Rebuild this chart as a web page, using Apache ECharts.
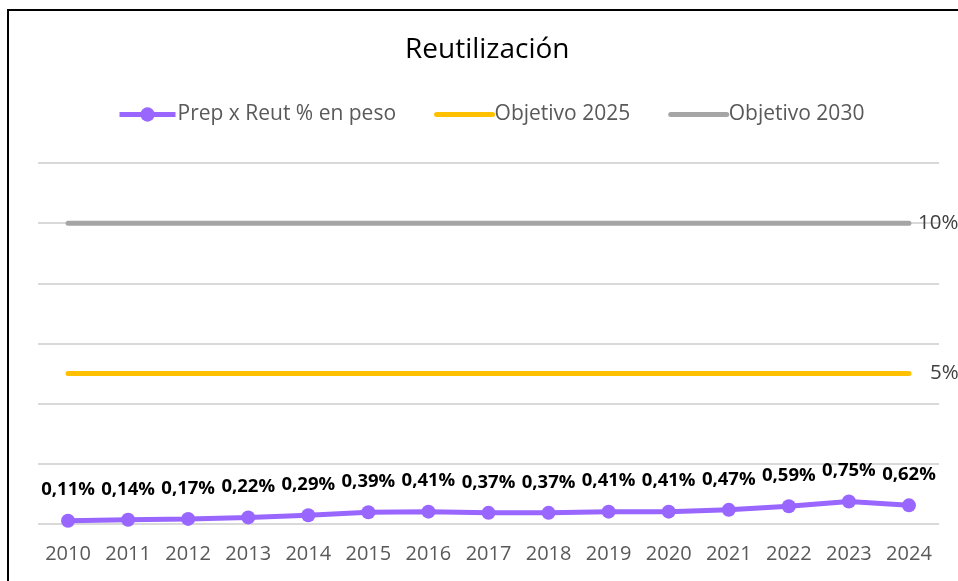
<!DOCTYPE html>
<html>
<head>
<meta charset="utf-8">
<script src="https://cdn.jsdelivr.net/npm/echarts@6/dist/echarts.min.js"></script>
<style>
  html, body { margin: 0; padding: 0; background: #fff; }
  #chart { width: 958px; height: 581px; }
</style>
</head>
<body>
<div id="chart"></div>
<script>
// datos
let years = ['2010','2011','2012','2013','2014','2015','2016','2017','2018','2019','2020','2021','2022','2023','2024'];
let prepReut = [0.11,0.14,0.17,0.22,0.29,0.39,0.41,0.37,0.37,0.41,0.41,0.47,0.59,0.75,0.62];
let obj2025 = [5,5,5,5,5,5,5,5,5,5,5,5,5,5,5];
let obj2030 = [10,10,10,10,10,10,10,10,10,10,10,10,10,10,10];

let font = '"Open Sans", sans-serif';
let pct = v => v.toFixed(2).replace('.', ',') + '%';

let chart = echarts.init(document.getElementById('chart'));
chart.setOption({
  animation: false,
  title: {
    text: 'Reutilización', left: 400, top: 31,
    textStyle: { fontFamily: font, fontSize: 28, fontWeight: 'normal', color: '#000' }
  },
  legend: {
    top: 99, left: 112, itemWidth: 56, itemHeight: 18, itemGap: 38,
    textStyle: { fontFamily: font, fontSize: 21, color: '#595959', padding: [0, 0, 0, -3] },
    data: [
      { name: 'Prep x Reut % en peso', lineStyle: { width: 5 } },
      { name: 'Objetivo 2025', itemStyle: { opacity: 0 }, lineStyle: { width: 5 } },
      { name: 'Objetivo 2030', itemStyle: { opacity: 0 }, lineStyle: { width: 5 } }
    ]
  },
  grid: { left: 38, right: 19, top: 163, bottom: 57 },
  xAxis: {
    type: 'category', data: years,
    axisLine: { show: false }, axisTick: { show: false },
    axisLabel: { interval: 0, hideOverlap: false, fontFamily: font, fontSize: 20, color: '#595959', margin: 20 }
  },
  yAxis: {
    type: 'value', min: 0, max: 12, interval: 2,
    axisLabel: { show: false }, axisLine: { show: false }, axisTick: { show: false },
    splitLine: { lineStyle: { color: '#D9D9D9', width: 2 } }
  },
  graphic: [{
    type: 'rect', silent: true, z: 100,
    shape: { x: 8, y: 10, width: 1000, height: 620 },
    style: { fill: 'none', stroke: '#000', lineWidth: 2 }
  }],
  series: [
    {
      name: 'Objetivo 2030', type: 'line', data: obj2030,
      symbol: 'none', lineStyle: { color: '#A5A5A5', width: 5, cap: 'round' },
      itemStyle: { color: '#A5A5A5' },
      endLabel: { show: true, distance: 9, formatter: '10%', color: '#404040', fontSize: 20.5, fontFamily: font }
    },
    {
      name: 'Objetivo 2025', type: 'line', data: obj2025,
      symbol: 'none', lineStyle: { color: '#FFC000', width: 5, cap: 'round' },
      itemStyle: { color: '#FFC000' },
      endLabel: { show: true, distance: 21, formatter: '5%', color: '#404040', fontSize: 20.5, fontFamily: font }
    },
    {
      name: 'Prep x Reut % en peso', type: 'line', data: prepReut,
      symbol: 'circle', symbolSize: 14,
      lineStyle: { color: '#9966FF', width: 5 },
      itemStyle: { color: '#9966FF' },
      label: {
        show: true, position: 'top', distance: 14,
        formatter: p => pct(p.value),
        fontFamily: font, fontSize: 18.5, fontWeight: 'bold', color: '#000'
      }
    }
  ]
});
</script>
</body>
</html>
